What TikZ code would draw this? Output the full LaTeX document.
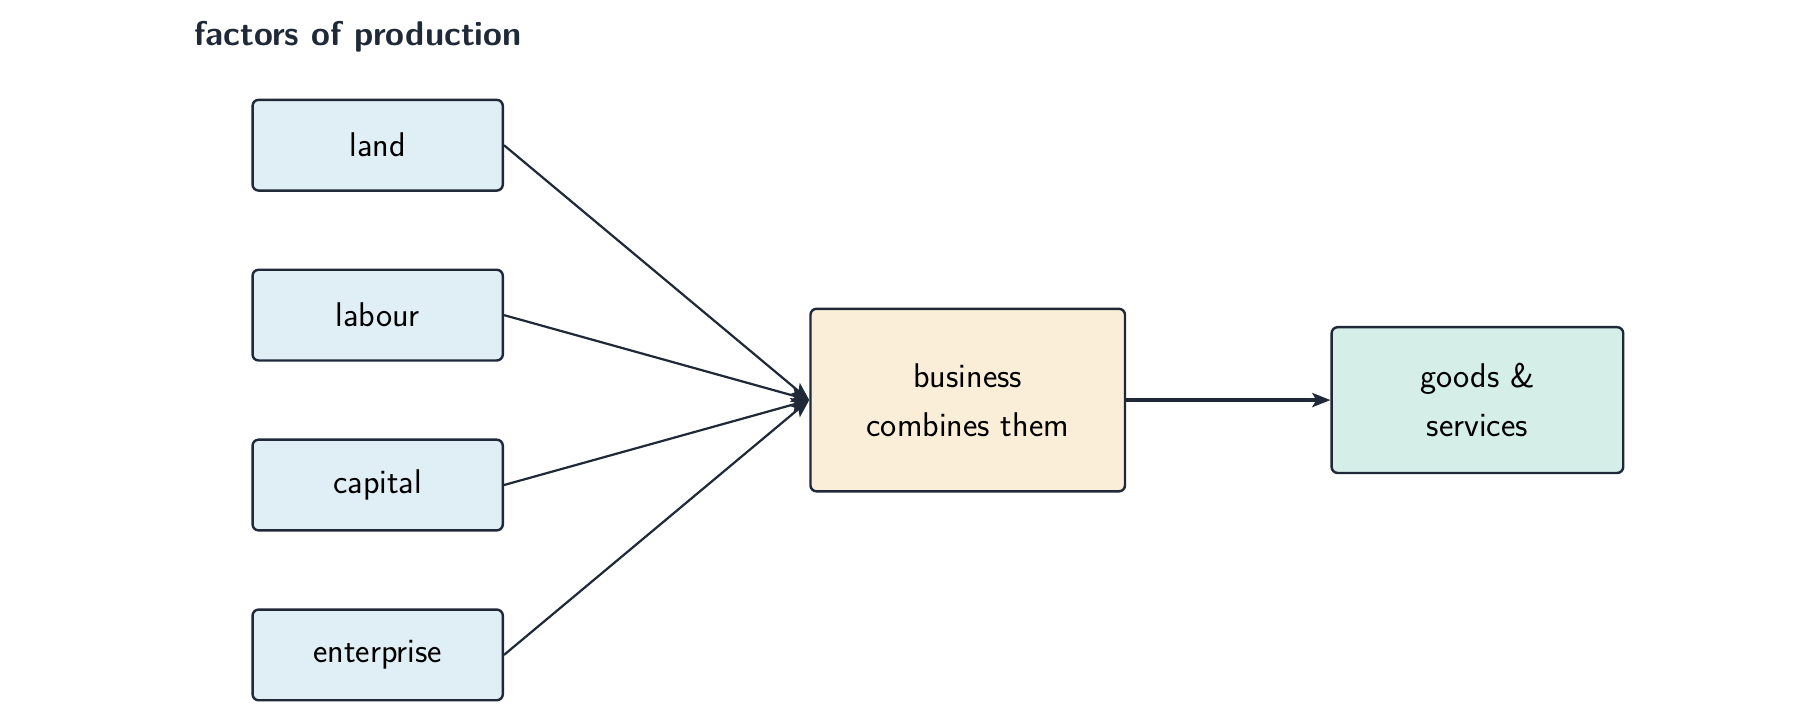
\documentclass[tikz,border=0pt]{standalone}
\usetikzlibrary{arrows.meta}
\renewcommand{\familydefault}{\sfdefault}
\begin{document}
\begin{tikzpicture}[x=0.02cm,y=-0.02cm,
  box/.style={draw=ink,line width=1.2pt,rounded corners=3pt,inner sep=0pt,align=center,font=\fontsize{17}{24}\selectfont,text=black},
  conn/.style={draw=ink,line width=1.1pt,-{Stealth[length=9pt,width=7pt,inset=2pt]}}]
\definecolor{ink}{HTML}{1F2937}
\definecolor{bluef}{HTML}{E0EEF5}
\definecolor{tanf}{HTML}{FAEED8}
\definecolor{greenf}{HTML}{D5EEE8}
\useasboundingbox (0,0) rectangle (1568,619);
\node[anchor=west,font=\bfseries\fontsize{17}{20}\selectfont,text=ink] (title) at (163,32) {factors of production};
\node[box,fill=bluef,minimum width=218*0.02cm,minimum height=79*0.02cm] (land) at (329,126.5) {land};
\node[box,fill=bluef,minimum width=218*0.02cm,minimum height=79*0.02cm] (labour) at (329,274.5) {labour};
\node[box,fill=bluef,minimum width=218*0.02cm,minimum height=79*0.02cm] (capital) at (329,422.5) {capital};
\node[box,fill=bluef,minimum width=218*0.02cm,minimum height=79*0.02cm] (enter) at (329,570.5) {enterprise};
\node[box,fill=tanf,minimum width=274*0.02cm,minimum height=159*0.02cm] (biz) at (843,348.5) {business\\combines them};
\node[box,fill=greenf,minimum width=254*0.02cm,minimum height=127*0.02cm] (goods) at (1287,348.5) {goods \&\\services};
\foreach \n in {land,labour,capital,enter} \draw[conn] (\n.east) -- (biz.west);
\draw[conn,line width=1.6pt] (biz.east) -- (goods.west);
\end{tikzpicture}
\end{document}
